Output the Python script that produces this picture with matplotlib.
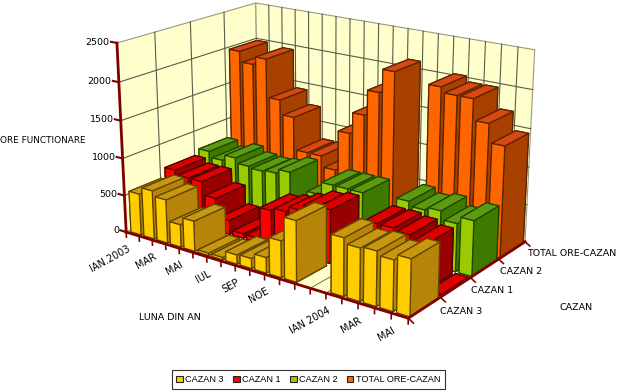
import matplotlib
matplotlib.use('Agg')
import matplotlib.pyplot as plt
from matplotlib.patches import Patch
from mpl_toolkits.mplot3d import proj3d
from mpl_toolkits.mplot3d.art3d import Poly3DCollection

W, H = 625, 392

# values, one per month, 13 and 14 are empty
cazan3 = [555, 650, 580, 300, 400, 30, 30, 120, 130, 200, 470, 780, 0, 0, 730, 660, 680, 630, 700]
cazan1 = [680, 620, 620, 440, 190, 60, 60, 480, 520, 590, 670, 700, 0, 0, 680, 680, 650, 590, 20]
cazan2 = [750, 670, 750, 680, 660, 680, 740, 0, 540, 710, 710, 710, 0, 0, 750, 690, 730, 620, 710]
total = [1985, 1840, 1950, 1420, 1220, 770, 770, 620, 1170, 1460, 1800, 2110, 0, 0, 2030, 1960, 1960, 1690, 1450]

series = [cazan3, cazan1, cazan2, total]
series_names = ['CAZAN 3', 'CAZAN 1', 'CAZAN 2', 'TOTAL ORE-CAZAN']
z_ticks = [0, 500, 1000, 1500, 2000, 2500]
month_labels = {0: 'IAN.2003', 2: 'MAR', 4: 'MAI', 6: 'IUL', 8: 'SEP', 10: 'NOE', 14: 'IAN 2004', 16: 'MAR', 18: 'MAI'}

# front, side, top, edge
colors = [('#FFCC00', '#B58408', '#C8960F', '#5E4500'),
          ('#FF0000', '#990000', '#DD0000', '#500000'),
          ('#99CC00', '#3F7A00', '#5C9A10', '#234400'),
          ('#FF6600', '#A84000', '#D84810', '#5A2400')]

AXIS = '#800000'
n_months = len(cazan3)
n_rows = len(series)
zmax = z_ticks[-1]

fig = plt.figure(figsize=(W / 100, H / 100), dpi=100)
cx, cy, s = 0.5087, 0.6179, 1.1283
ax = fig.add_axes([cx - s / 2, cy - s / 2, s, s], projection='3d', computed_zorder=False)
ax.set_proj_type('persp', focal_length=0.5809)
ax.view_init(elev=18.591, azim=-53.995)
ax.set_box_aspect((1, 0.6336, 0.5817))
ax.set_axis_off()

# walls and floor
walls = [[(0, 0, 0), (0, n_rows, 0), (0, n_rows, zmax), (0, 0, zmax)],
         [(0, n_rows, 0), (n_months, n_rows, 0), (n_months, n_rows, zmax), (0, n_rows, zmax)],
         [(0, 0, 0), (n_months, 0, 0), (n_months, n_rows, 0), (0, n_rows, 0)]]
ax.add_collection3d(Poly3DCollection(walls, facecolor='#FFFFCC', edgecolor='#99997A', linewidth=0.8, zorder=1))

grid = '#5A5A48'
for z in z_ticks[1:-1]:
    ax.plot([0, 0, n_months], [0, n_rows, n_rows], [z, z, z], color=grid, lw=0.8, zorder=2)
for m in range(1, n_months):
    ax.plot([m, m], [n_rows, n_rows], [0, zmax], color=grid, lw=0.8, zorder=2)
    ax.plot([m, m], [0, n_rows], [0, 0], color=grid, lw=0.6, zorder=2)
for r in range(1, n_rows):
    ax.plot([0, 0], [r, r], [0, zmax], color=grid, lw=0.8, zorder=2)
    ax.plot([0, n_months], [r, r], [0, 0], color='white', lw=1.6, zorder=3)

# bars, back row first
zo = 10
for r in range(n_rows - 1, -1, -1):
    front, side, top, edge = colors[r]
    for m in range(n_months):
        v = series[r][m]
        if v > 0:
            ax.bar3d(m + 0.2, r + 0.06, 0, 0.78, 0.88, v, color=[top, top, front, front, side, side],
                     edgecolor=edge, linewidth=0.9, shade=False, zorder=zo)
        zo += 1

# axes and ticks
ax.plot([0, 0], [0, 0], [0, zmax], color=AXIS, lw=2, zorder=500)
ax.plot([0, n_months], [0, 0], [0, 0], color=AXIS, lw=2, zorder=500)
ax.plot([n_months, n_months], [0, n_rows], [0, 0], color=AXIS, lw=2, zorder=500)
for z in z_ticks:
    ax.plot([-0.45, 0], [0, 0], [z, z], color=AXIS, lw=1.5, zorder=500)
for m in range(n_months + 1):
    ax.plot([m, m], [0, 0], [0, -70], color=AXIS, lw=1.2, zorder=500)
for r in range(n_rows + 1):
    ax.plot([n_months, n_months + 0.3], [r, r], [0, -40], color=AXIS, lw=1.2, zorder=500)

ax.set_xlim(0, n_months)
ax.set_ylim(0, n_rows)
ax.set_zlim(0, zmax)

# tick labels go on the figure, at the projected place of their tick
ax.apply_aspect()
proj = ax.get_proj()


def to_fig(x, y, z):
    px, py, _ = proj3d.proj_transform(x, y, z, proj)
    return fig.transFigure.inverted().transform(ax.transData.transform((px, py)))


for z in z_ticks:
    fx, fy = to_fig(-0.55, 0, z - 10)
    fig.text(fx, fy, str(z), ha='right', va='center', fontsize=6.8)
for m, lab in month_labels.items():
    fx, fy = to_fig(m + 0.05, 0, -150)
    fig.text(fx, fy, lab, ha='right', va='top', rotation=29, rotation_mode='anchor', fontsize=7)
for r, name in enumerate(series_names):
    fx, fy = to_fig(n_months + 0.9, r + 0.5, 10)
    fig.text(fx, fy, name, ha='left', va='center', fontsize=6.8)

fig.text(0 / W, 1 - 141 / H, 'ORE FUNCTIONARE', fontsize=6.4, va='center', ha='left')
fig.text(139 / W, 1 - 318 / H, 'LUNA DIN AN', fontsize=6.8, va='center', ha='left')
fig.text(560 / W, 1 - 308 / H, 'CAZAN', fontsize=6.8, va='center', ha='left')

handles = [Patch(facecolor=c[0], edgecolor='#222222', linewidth=0.8) for c in colors]
leg = fig.legend(handles, series_names, ncol=4, loc='center', bbox_to_anchor=(308.5 / W, 1 - 379.5 / H),
                 prop={'family': 'Liberation Sans', 'size': 6.6}, frameon=True, fancybox=False,
                 edgecolor='#333333', framealpha=1, handlelength=0.7, handleheight=0.7,
                 handletextpad=0.3, columnspacing=1.0, borderpad=0.5, labelspacing=0.2)
leg.get_frame().set_linewidth(0.8)

fig.savefig('out.png', dpi=100)
